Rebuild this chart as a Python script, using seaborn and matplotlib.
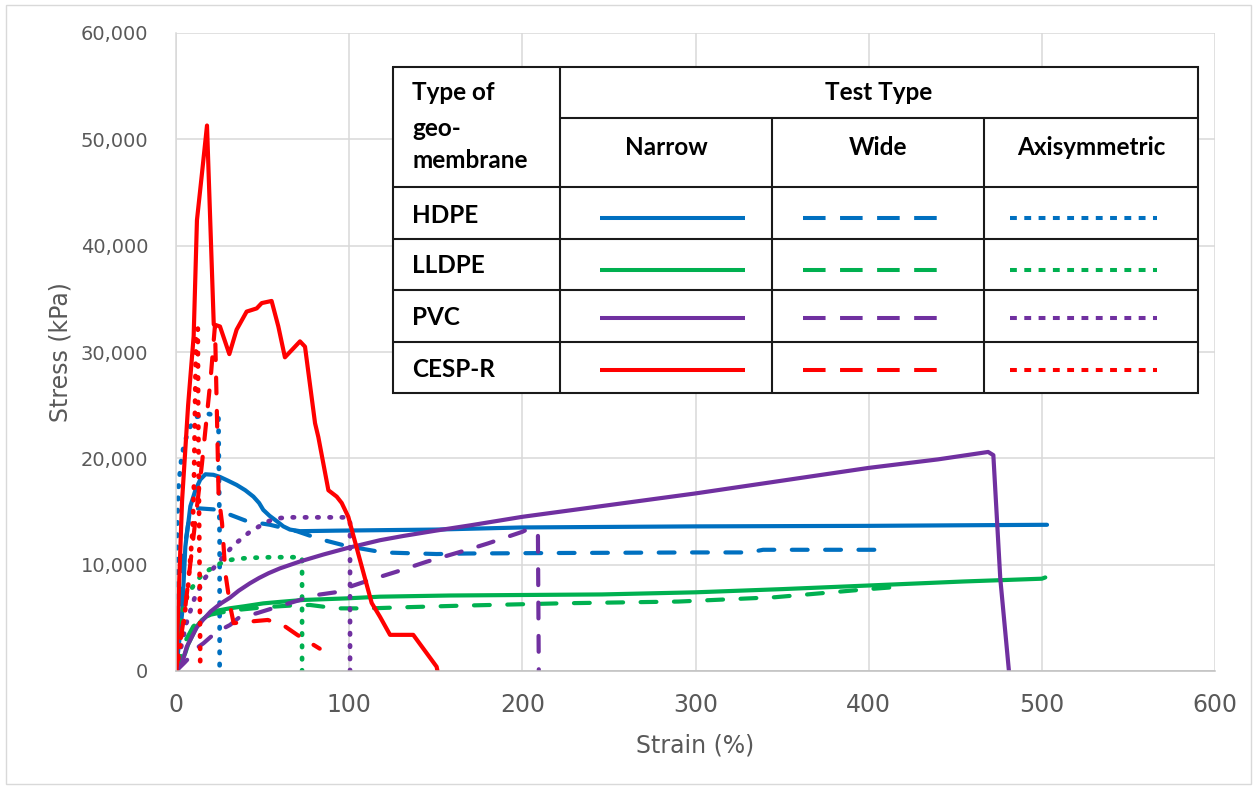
import matplotlib
matplotlib.use("Agg")
import matplotlib.pyplot as plt
from matplotlib.patches import Rectangle
from matplotlib.ticker import FuncFormatter, MultipleLocator
import pandas as pd
import seaborn as sns

# ---- stress-strain curves (strain in %, stress in kPa) ----
hdpe_narrow_strain = [0, 2, 3.5, 5.4, 8.3, 11.2, 14, 17, 21.6, 25.4, 30, 35, 40, 44.7, 48, 50.4, 54, 58.1, 62, 65.8, 71.6, 92.8, 150, 200, 300, 400, 450, 503]
hdpe_narrow_stress = [0, 3000, 5400, 11700, 15500, 17000, 18000, 18500, 18450, 18250, 17900, 17500, 17000, 16400, 15800, 15150, 14600, 14100, 13600, 13300, 13150, 13200, 13300, 13500, 13600, 13650, 13700, 13750]

hdpe_wide_strain = [0, 2, 4, 7, 10, 12.9, 21.6, 31.2, 40.8, 54.3, 69.7, 83.2, 98.6, 119.7, 150.5, 168, 224, 300, 331, 339, 373, 406]
hdpe_wide_stress = [0, 6000, 10500, 13800, 15000, 15300, 15200, 14700, 14100, 13750, 13150, 12400, 11750, 11150, 11000, 11050, 11100, 11150, 11150, 11400, 11400, 11400]

hdpe_axi_strain = [0, 0.4, 0.8, 1.5, 3, 4.4, 6, 8.3, 12.1, 18, 24.5, 25.2, 25.2]
hdpe_axi_stress = [0, 8000, 14500, 17500, 19800, 21100, 22000, 23000, 23900, 24200, 24000, 12000, 0]

lldpe_narrow_strain = [0, 1.5, 2.5, 4, 5.4, 7, 9.2, 12, 15, 19.6, 24.6, 31.2, 40, 50.4, 60, 73.5, 98.6, 117.8, 158, 246, 300, 350, 400, 455, 500, 502]
lldpe_narrow_stress = [0, 300, 600, 1200, 1700, 2500, 3230, 4200, 4800, 5370, 5700, 5900, 6100, 6360, 6500, 6680, 6830, 6990, 7100, 7200, 7400, 7700, 8040, 8420, 8680, 8800]

lldpe_wide_strain = [0, 3, 6, 10, 15, 20, 26, 35, 45, 56, 66, 77.4, 85, 92.8, 112, 131, 166, 224, 290, 346, 400, 420]
lldpe_wide_stress = [0, 1500, 3000, 4200, 4900, 5300, 5500, 5740, 5900, 6050, 6150, 6210, 6050, 5890, 5890, 5990, 6150, 6370, 6530, 6940, 7700, 7950]

lldpe_axi_strain = [0, 1, 2.5, 5, 8, 12, 16, 21, 25.4, 30, 35, 44.7, 55, 69.7, 72.8, 72.8]
lldpe_axi_stress = [0, 2500, 4500, 6500, 7500, 8500, 9200, 9700, 10100, 10400, 10550, 10650, 10700, 10700, 10700, 0]

pvc_narrow_strain = [0, 3.5, 6.2, 9.2, 12, 15.8, 20, 25.4, 31.2, 36.2, 42.7, 48, 53.5, 60, 71.6, 85, 98.6, 117.8, 131.3, 150, 170, 200, 250, 300, 350, 400, 440, 469, 472, 476, 481]
pvc_narrow_stress = [0, 720, 2270, 3230, 4100, 4850, 5600, 6300, 6900, 7550, 8250, 8750, 9200, 9650, 10300, 10950, 11550, 12300, 12700, 13200, 13700, 14500, 15600, 16700, 17900, 19100, 19900, 20600, 20300, 8700, 0]

pvc_wide_strain = [0, 5, 8.1, 13.1, 15.8, 20, 25, 31.2, 36.2, 46.4, 62, 81.2, 94.7, 100.5, 112, 127.4, 144.8, 167.9, 180, 200, 202, 209, 209.5]
pvc_wide_stress = [0, 800, 1340, 2290, 2600, 3200, 3800, 4330, 5000, 5420, 6210, 7150, 7460, 7930, 8560, 9340, 10280, 11380, 11990, 13090, 13250, 13100, 0]

pvc_axi_strain = [0, 3, 6, 11, 17, 25, 33, 42, 52, 58, 65, 80, 98.6, 100.5, 100.5]
pvc_axi_stress = [0, 2300, 4500, 7000, 8800, 10300, 11800, 13000, 14000, 14350, 14450, 14450, 14450, 14300, 0]

cesp_narrow_strain = [0, 3.5, 7, 10.2, 12.1, 15, 17.9, 21.8, 25.4, 30.8, 35, 40.8, 46.6, 49.5, 55.2, 59.1, 62.9, 71.6, 74.5, 80.3, 82.2, 88, 92.8, 95.7, 99.5, 106.3, 113, 117.8, 123.6, 137, 150.5, 151]
cesp_narrow_stress = [0, 16000, 25000, 31500, 42400, 46800, 51300, 32600, 32400, 29800, 32100, 33800, 34100, 34600, 34800, 32400, 29500, 31000, 30500, 23300, 22000, 17000, 16400, 15800, 14500, 10400, 6400, 5100, 3400, 3400, 400, 0]

cesp_wide_strain = [0, 5, 10, 15, 20, 22.5, 23.7, 24.6, 26.6, 28.5, 31.4, 33.3, 40, 46, 53, 62, 70, 83]
cesp_wide_stress = [0, 5500, 12500, 19500, 27500, 32500, 23600, 16500, 13900, 9200, 6000, 4500, 4600, 4700, 4800, 4300, 3400, 2100]

cesp_axi_strain = [0, 4, 7, 9.5, 10.3, 11, 11.6, 12.6, 12.8, 13.3, 13.8, 14]
cesp_axi_stress = [0, 4000, 8000, 13000, 17000, 25000, 32000, 32200, 25000, 15000, 6000, 500]

membranes = ["HDPE", "LLDPE", "PVC", "CESP-R"]
test_types = ["Narrow", "Wide", "Axisymmetric"]
colors = {"HDPE": "#0070C0", "LLDPE": "#00B050", "PVC": "#7030A0", "CESP-R": "#FF0000"}

series = {
    ("HDPE", "Narrow"): (hdpe_narrow_strain, hdpe_narrow_stress),
    ("HDPE", "Wide"): (hdpe_wide_strain, hdpe_wide_stress),
    ("HDPE", "Axisymmetric"): (hdpe_axi_strain, hdpe_axi_stress),
    ("LLDPE", "Narrow"): (lldpe_narrow_strain, lldpe_narrow_stress),
    ("LLDPE", "Wide"): (lldpe_wide_strain, lldpe_wide_stress),
    ("LLDPE", "Axisymmetric"): (lldpe_axi_strain, lldpe_axi_stress),
    ("PVC", "Narrow"): (pvc_narrow_strain, pvc_narrow_stress),
    ("PVC", "Wide"): (pvc_wide_strain, pvc_wide_stress),
    ("PVC", "Axisymmetric"): (pvc_axi_strain, pvc_axi_stress),
    ("CESP-R", "Narrow"): (cesp_narrow_strain, cesp_narrow_stress),
    ("CESP-R", "Wide"): (cesp_wide_strain, cesp_wide_stress),
    ("CESP-R", "Axisymmetric"): (cesp_axi_strain, cesp_axi_stress),
}

rows = []
for (mem, test), (xs, ys) in series.items():
    for i, (x, y) in enumerate(zip(xs, ys)):
        rows.append({"membrane": mem, "test": test, "strain": x, "stress": y, "idx": i})
df = pd.DataFrame(rows)

sns.set_theme(style="white")
plt.rcParams["font.family"] = ["DejaVu Sans"]

W, H = 1258, 789
fig = plt.figure(figsize=(W / 100, H / 100), dpi=100)
fig.patch.set_facecolor("white")
fig.add_artist(Rectangle((6 / W, 1 - 784 / H), 1245 / W, 779 / H, transform=fig.transFigure,
                         fill=False, edgecolor="#d9d9d9", lw=1.0))

L, R, T, B = 176, 1215, 33, 671
ax = fig.add_axes([L / W, 1 - B / H, (R - L) / W, (B - T) / H])

# line widths and patterns (pattern in multiples of the width; round caps add one width per dash)
widths = {"Narrow": 3.0, "Wide": 3.0, "Axisymmetric": 3.4}
patterns = {"Narrow": None, "Wide": (3.8, 4.2), "Axisymmetric": (0.3, 2.3)}

# draw order: per membrane dotted, dashed, then solid, CESP-R last
for mem in membranes:
    for test in ["Axisymmetric", "Wide", "Narrow"]:
        sub = df[(df.membrane == mem) & (df.test == test)].sort_values("idx")
        n_before = len(ax.lines)
        sns.lineplot(data=sub, x="strain", y="stress", sort=False, estimator=None,
                     color=colors[mem], lw=widths[test], ax=ax, legend=False)
        line = ax.lines[n_before]
        line.set_solid_capstyle("round")
        line.set_solid_joinstyle("round")
        line.set_dash_capstyle("round")
        line.set_dash_joinstyle("round")
        if patterns[test] is not None:
            line.set_linestyle((0, patterns[test]))

ax.set_xlim(0, 600)
ax.set_ylim(0, 60000)
ax.xaxis.set_major_locator(MultipleLocator(100))
ax.yaxis.set_major_locator(MultipleLocator(10000))
ax.yaxis.set_major_formatter(FuncFormatter(lambda v, p: f"{int(v):,}"))
ax.grid(True, color="#d9d9d9", lw=1.1)
ax.set_axisbelow(True)
for s in ["top", "right"]:
    ax.spines[s].set_visible(False)
ax.spines["left"].set_color("#d9d9d9")
ax.spines["bottom"].set_color("#bfbfbf")
ax.spines["left"].set_linewidth(1.1)
ax.spines["bottom"].set_linewidth(1.1)
ax.tick_params(axis="both", length=0)
ax.tick_params(axis="y", pad=20, labelsize=14, labelcolor="#595959")
ax.tick_params(axis="x", pad=16, labelcolor="#595959")
cond = ["Liberation Sans Narrow", "DejaVu Sans"]
for lab in ax.get_xticklabels():
    lab.set_fontfamily(cond)
    lab.set_fontsize(17)
ax.set_xlabel("Strain (%)", fontsize=17, color="#595959", family=cond, labelpad=12)
ax.set_ylabel("Stress (kPa)", fontsize=17, color="#595959", family=cond, labelpad=6)

# ---- table of line styles ----
TL, TT, TR, TB = 393, 67, 1198, 393
tax = fig.add_axes([TL / W, 1 - TB / H, (TR - TL) / W, (TB - TT) / H], zorder=5)
tw, th = TR - TL, TB - TT
tax.set_xlim(0, tw)
tax.set_ylim(th, 0)
tax.set_facecolor("white")
for s in tax.spines.values():
    s.set_visible(False)
tax.set_xticks([])
tax.set_yticks([])

cols = [0, 167, 379, 591, tw]
rws = [0, 51, 120, 172, 223, 275, th]
bk = "#1a1a1a"
blw = 1.5
tax.plot([0, tw, tw, 0, 0], [0, 0, th, th, 0], color=bk, lw=blw, solid_joinstyle="miter", clip_on=False)
tax.plot([cols[1], cols[1]], [0, th], color=bk, lw=blw)
tax.plot([cols[1], tw], [rws[1], rws[1]], color=bk, lw=blw)
for c in cols[2:4]:
    tax.plot([c, c], [rws[1], th], color=bk, lw=blw)
for r in rws[2:6]:
    tax.plot([0, tw], [r, r], color=bk, lw=blw)

tfont = dict(family=["Lato", "DejaVu Sans"], fontweight="bold", fontsize=17.5, color="black")
tax.text(19, 33, "Type of", ha="left", va="baseline", **tfont)
tax.text(19, 69, "geo-", ha="left", va="baseline", **tfont)
tax.text(19, 101, "membrane", ha="left", va="baseline", **tfont)
tax.text((cols[1] + tw) / 2, 33, "Test Type", ha="center", va="baseline", **tfont)
for i, t in enumerate(test_types):
    tax.text((cols[i + 1] + cols[i + 2]) / 2, 88, t, ha="center", va="baseline", **tfont)

label_base = [156, 206, 258, 310]
line_y = [151, 203, 251, 303]
seg = {"Narrow": (207, 352), "Wide": (410, 545), "Axisymmetric": (617, 764)}
tlw = 2.9
for mem, yb, yl in zip(membranes, label_base, line_y):
    tax.text(19, yb, mem, ha="left", va="baseline", **tfont)
    c = colors[mem]
    x0, x1 = seg["Narrow"]
    tax.plot([x0, x1], [yl, yl], color=c, lw=tlw, solid_capstyle="butt")
    x0, x1 = seg["Wide"]
    tax.plot([x0, x1], [yl, yl], color=c, lw=tlw, dash_capstyle="butt", linestyle=(0, (5.6, 3.6)))
    x0, x1 = seg["Axisymmetric"]
    tax.plot([x0, x1], [yl, yl], color=c, lw=tlw, dash_capstyle="butt", linestyle=(0, (1.7, 1.85)))

fig.savefig("out.png", dpi=100, facecolor="white")
